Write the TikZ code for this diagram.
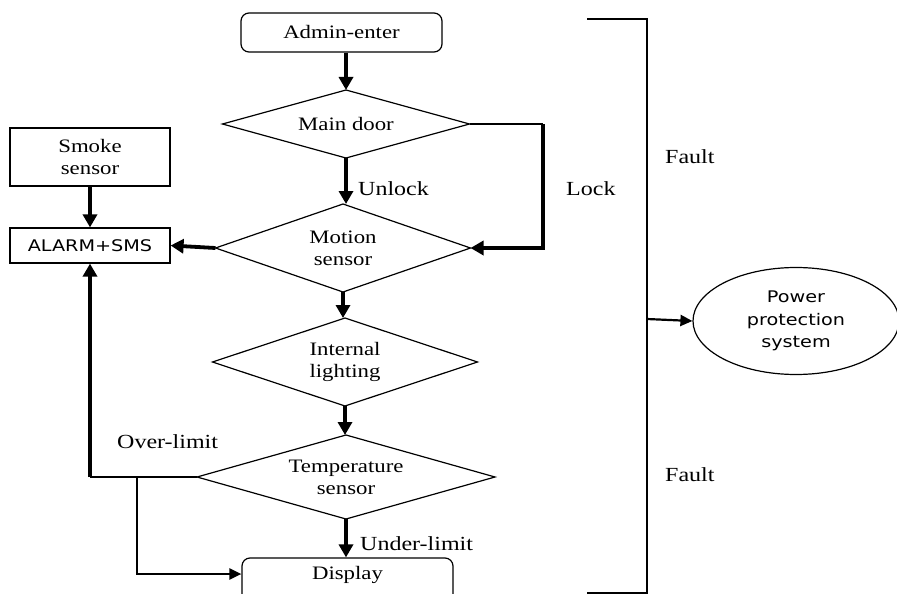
\documentclass[tikz,border=0pt]{standalone}
\usepackage{fontspec}
\setmainfont{Liberation Serif}[FakeStretch=1.2]
\newfontfamily\sansf{DejaVu Sans}[FakeStretch=1.2]
\usetikzlibrary{shapes.geometric,arrows.meta}
\newcommand\mydiamond[6]{%
  \node[dtext] (#1) at (#2,#3) {#6};
  \coordinate (#1-n) at (#2,{#3-#5/2});
  \coordinate (#1-s) at (#2,{#3+#5/2});
  \coordinate (#1-e) at ({#2+#4/2},#3);
  \coordinate (#1-w) at ({#2-#4/2},#3);
  \draw[thin line] (#1-n) -- (#1-e) -- (#1-s) -- (#1-w) -- cycle;}
\begin{document}
\begin{tikzpicture}[x=1pt,y=-1pt,
  every node/.style={font=\fontsize{19}{22}\selectfont, text=black},
  thin line/.style={line width=1.2pt},
  boxnode/.style={draw, thin line, inner sep=0pt, align=center},
  roundbox/.style={boxnode, rounded corners=8pt},
  dtext/.style={inner sep=0pt, align=center},
  flow/.style={line width=3.8pt, -{Triangle[length=13pt,width=14pt]}},
  flowthin/.style={line width=2.2pt, -{Triangle[length=12pt,width=11pt]}},
  lbl/.style={anchor=west, inner sep=0pt, font=\fontsize{20}{22}\selectfont}]
\useasboundingbox (0,0) rectangle (897,594);
\path[clip] (0,0) rectangle (897,594);
\fill[white] (0,0) rectangle (897,594);

% nodes
\node[roundbox, minimum width=201, minimum height=39] (admin) at (341.5,32.5) {Admin-enter};
\mydiamond{main}{346}{124}{247}{68}{Main door}
\mydiamond{motion}{343}{248}{255}{88}{Motion\\sensor}
\mydiamond{internal}{345}{362}{265}{88}{Internal\\lighting}
\mydiamond{temp}{346}{477}{298}{84}{Temperature\\sensor}
\node[roundbox, minimum width=211, minimum height=54] (display) at (347.5,585) {};
\node[inner sep=0pt] (displaytext) at (347.5,575) {Display};
\node[boxnode, minimum width=160, minimum height=58] (smoke) at (90,157) {Smoke\\sensor};
\node[boxnode, minimum width=160, minimum height=35, font=\sansf\fontsize{16}{22}\selectfont] (alarm) at (90,245.5) {ALARM+SMS};
\node[ellipse, draw, thin line, minimum width=206, minimum height=107, inner sep=0pt, align=center,
      font=\sansf\fontsize{16}{22.5}\selectfont] (power) at (796,321) {Power\\protection\\system};

% labels
\node[lbl] (unlock) at (358,189) {Unlock};
\node[lbl] (lock) at (566,189) {Lock};
\node[lbl] (fault1) at (665,157) {Fault};
\node[lbl] (fault2) at (665,475) {Fault};
\node[lbl] (over) at (117,442) {Over-limit};
\node[lbl] (under) at (360,544) {Under-limit};

% coordinates
\coordinate (lockc) at (543,124);
\coordinate (ovc) at (90,477);
\coordinate (brc) at (137,477);
\coordinate (dispc) at (137,574);
\coordinate (bt1) at (587,19);
\coordinate (bt2) at (647,19);
\coordinate (bb2) at (647,593);
\coordinate (bb1) at (587,593);
\coordinate (bm) at (647,319);

% connectors
\draw[flow] (admin.south -| main-n) -- (main-n);
\draw[flow] (main-s) -- (motion-n -| main-s);
\draw[thin line] (main-e) -- (lockc);
\draw[flow] (lockc) |- (motion-e);
\draw[flow] (motion-w) -- (alarm.east);
\draw[flow] (smoke.south) -- (alarm.north);
\draw[flow] (motion-s) -- (internal-n -| motion-s);
\draw[flow] (internal-s) -- (temp-n -| internal-s);
\draw[flow] (temp-s) -- (display.north -| temp-s);
\draw[line width=1.5pt] (temp-w) -- (ovc);
\draw[flow] (ovc) -- (alarm.south);
\draw[flowthin] (brc) |- (display.west |- dispc);
\draw[line width=1.4pt] (bt1) -- (bt2) -- (bb2) -- (bb1);
\draw[flowthin] (bm) -- (power.west);
\end{tikzpicture}
\end{document}
